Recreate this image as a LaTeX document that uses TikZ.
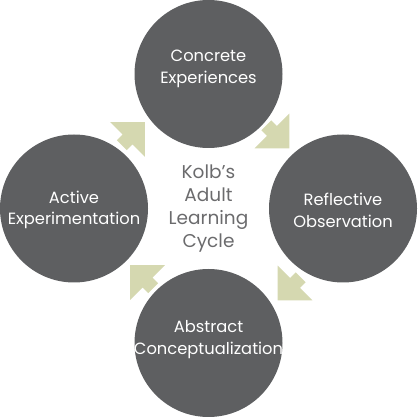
\documentclass[tikz,border=0pt]{standalone}
\usepackage{fontspec}
\setmainfont{Poppins}
\definecolor{circgray}{HTML}{5E5F61}
\definecolor{arrowolive}{HTML}{D5D8B0}
\definecolor{centergray}{HTML}{6B6B6D}
\tikzset{
  stagecircle/.style={circle, fill=circgray, draw=none, minimum size=148pt, inner sep=0pt},
  stagetext/.style={text=white, align=center, font=\fontsize{16.3}{21.7}\selectfont, inner sep=0pt},
  centertext/.style={text=centergray, align=center, font=\fontsize{18.5}{23.3}\selectfont, inner sep=0pt},
  blockarrow/.style={fill=arrowolive, draw=none}
}
\newcommand{\kolbarrow}[2]{%
  \fill[blockarrow, shift={#1}, rotate=#2]
    (24.5,0) -- (0,24.5) -- (0,7) -- (-8,7) -- (-8,-7) -- (0,-7) -- (0,-24.5) -- cycle;}
\begin{document}
\begin{tikzpicture}[x=1pt, y=1pt]
  \useasboundingbox (0,0) rectangle (417,417);
  \node[stagecircle] (ce) at (208.5,343) {};
  \node[stagecircle] (ro) at (343,208.5) {};
  \node[stagecircle] (ac) at (208.5,74) {};
  \node[stagecircle] (ae) at (74,208.5) {};
  \node[stagetext] (cet) at ([yshift=5pt]ce.center) {Concrete\\Experiences};
  \node[stagetext] (rot) at ([yshift=-1.5pt]ro.center) {Reflective\\Observation};
  \node[stagetext] (act) at ([yshift=3.5pt]ac.center) {Abstract\\Conceptualization};
  \node[stagetext] (aet) at ([yshift=-1.5pt]ae.center) {Active\\Experimentation};
  \node[centertext] (kolb) at (208.5,208.5) {Kolb’s\\Adult\\Learning\\Cycle};
  \kolbarrow{(272,286)}{-45}
  \kolbarrow{(295,134)}{-135}
  \kolbarrow{(147.5,134.5)}{135}
  \kolbarrow{(127.5,277.5)}{45}
\end{tikzpicture}
\end{document}
